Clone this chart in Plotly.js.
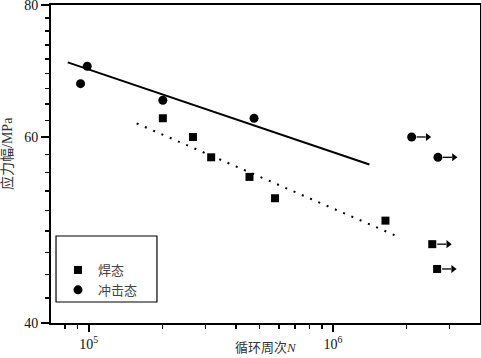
<!DOCTYPE html>
<html>
<head>
<meta charset="utf-8">
<script src="https://cdn.plot.ly/plotly-3.0.1.min.js"></script>
<style>html,body{margin:0;padding:0;background:#fff;}#chart{width:481px;height:358px;}</style>
</head>
<body>
<div id="chart"></div>
<script>
// ---- data ----
const weldN = [2.01e5, 2.67e5, 3.17e5, 4.55e5, 5.79e5, 1.64e6, 2.55e6, 2.67e6];
const weldS = [62.5, 60.0, 57.4, 55.0, 52.5, 50.0, 47.5, 45.0];
const weldRunout = [false, false, false, false, false, false, true, true];

const impactN = [9.25e4, 9.85e4, 2.01e5, 4.75e5, 2.10e6, 2.69e6];
const impactS = [67.4, 70.0, 65.0, 62.5, 60.0, 57.4];
const impactRunout = [false, false, false, false, true, true];

const fitImpactN = [8.2e4, 1.41e6];
const fitImpactS = [70.6, 56.5];
const fitWeldN = [1.57e5, 1.88e6];
const fitWeldS = [61.8, 48.2];

const xTickVals = [1e5, 1e6];
const xTickText = ['10<sup>5</sup>', '10<sup>6</sup>'];
const xMinor = [8e4, 9e4, 2e5, 3e5, 4e5, 5e5, 6e5, 7e5, 8e5, 9e5, 2e6, 3e6];
const yTickVals = [40, 60, 80];
const yMinor = [];
for (let k = 1; k <= 8; k++) { yMinor.push(40 + 20 * k / 9); yMinor.push(60 + 20 * k / 9); }

const legendNames = ['焊态', '冲击态'];
const xTitle = '循环周次<i>N</i>';
const yTitle = '应力幅/MPa';

// ---- geometry helpers ----
const W = 481, H = 358, M = {l: 51, r: 1, t: 5, b: 35};
const xRange = [Math.log10(7e4), Math.log10(4e6)];
const pxPerDecade = (W - M.l - M.r) / (xRange[1] - xRange[0]);
const shiftN = (n, px) => n * Math.pow(10, px / pxPerDecade);

// run-out arrows (shaft + head) built from the run-out points
const shaftX = [], shaftY = [], headX = [], headY = [];
function addRunouts(N, S, flags) {
  N.forEach((n, i) => {
    if (!flags[i]) return;
    shaftX.push(shiftN(n, 5), shiftN(n, 14), null);
    shaftY.push(S[i], S[i], null);
    headX.push(shiftN(n, 16));
    headY.push(S[i]);
  });
}
addRunouts(weldN, weldS, weldRunout);
addRunouts(impactN, impactS, impactRunout);

// ---- traces ----
const traces = [
  {x: fitImpactN, y: fitImpactS, mode: 'lines', line: {color: '#000', width: 2}, showlegend: false, hoverinfo: 'skip'},
  {x: fitWeldN, y: fitWeldS, mode: 'lines', line: {color: '#000', width: 2, dash: '2px,7px'}, showlegend: false, hoverinfo: 'skip'},
  {x: weldN, y: weldS, mode: 'markers', name: legendNames[0], marker: {symbol: 'square', size: 8, color: '#000'}},
  {x: impactN, y: impactS, mode: 'markers', name: legendNames[1], marker: {symbol: 'circle', size: 9, color: '#000'}},
  {x: shaftX, y: shaftY, mode: 'lines', line: {color: '#000', width: 1.3}, showlegend: false, hoverinfo: 'skip', connectgaps: false},
  {x: headX, y: headY, mode: 'markers', marker: {symbol: 'triangle-right', size: 7, color: '#000'}, showlegend: false, hoverinfo: 'skip'}
];

const annotations = [
  {
    text: yTitle, xref: 'paper', yref: 'paper', x: -0.1026, y: 0.5346,
    xanchor: 'center', yanchor: 'middle', textangle: -90, showarrow: false,
    font: {family: 'Liberation Serif, Noto Sans CJK SC', size: 14, color: '#333'}
  },
  {
    text: xTitle, xref: 'paper', yref: 'paper', x: 0.5, y: -0.107,
    xanchor: 'center', yanchor: 'bottom', showarrow: false,
    font: {family: 'Liberation Serif, Noto Sans CJK SC', size: 13, color: '#333'}
  }
];

const eps = 1e-6;
const layout = {
  width: W, height: H,
  margin: M,
  paper_bgcolor: '#fff', plot_bgcolor: '#fff',
  font: {family: 'Liberation Serif, Noto Sans CJK SC', size: 13, color: '#111'},
  xaxis: {
    type: 'log', range: xRange,
    tickmode: 'array', tickvals: xTickVals, ticktext: xTickText,
    ticks: 'outside', ticklen: 7, tickwidth: 1.5, tickcolor: '#000',
    showline: true, linewidth: 2, linecolor: '#000', mirror: true,
    showgrid: false, zeroline: false, ticklabeloverflow: 'allow',
    tickfont: {family: 'Liberation Serif', size: 14, color: '#111'},
    minor: {tickmode: 'array', tickvals: xMinor, ticks: 'outside', ticklen: 4, tickwidth: 1.5, tickcolor: '#000', showgrid: false}
  },
  yaxis: {
    type: 'log', range: [Math.log10(40) - eps, Math.log10(80) + eps],
    tickmode: 'array', tickvals: yTickVals, ticktext: yTickVals.map(String),
    ticks: 'outside', ticklen: 8, tickwidth: 1.5, tickcolor: '#000',
    showline: true, linewidth: 2, linecolor: '#000', mirror: true,
    showgrid: false, zeroline: false, ticklabeloverflow: 'allow',
    tickfont: {family: 'Liberation Serif', size: 14, color: '#111'},
    minor: {tickmode: 'array', tickvals: yMinor, ticks: 'outside', ticklen: 4, tickwidth: 1.5, tickcolor: '#000', showgrid: false}
  },
  showlegend: true,
  legend: {
    x: 0.0163, y: 0.2138, xanchor: 'left', yanchor: 'top',
    bgcolor: 'rgba(0,0,0,0)', borderwidth: 0,
    font: {family: 'Noto Sans CJK SC', size: 13, color: '#444'}
  },
  shapes: [{
    type: 'rect', xref: 'paper', yref: 'paper',
    x0: 0.0117, x1: 0.247, y0: 0.066, y1: 0.2736,
    line: {color: '#000', width: 1.2}, fillcolor: 'rgba(0,0,0,0)'
  }],
  annotations: annotations
};

Plotly.newPlot('chart', traces, layout, {staticPlot: true, displayModeBar: false});
</script>
</body>
</html>
